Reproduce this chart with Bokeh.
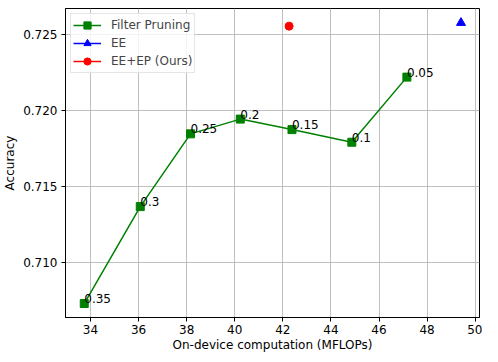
from bokeh.plotting import figure
from bokeh.models import Range1d, FixedTicker, PrintfTickFormatter, Legend
from bokeh.embed import file_html
from bokeh.resources import INLINE

# Data
fp_flops = [33.74, 36.07, 38.16, 40.23, 42.38, 44.87, 47.16]
fp_acc = [0.70733, 0.71370, 0.71848, 0.71945, 0.71876, 0.71793, 0.72221]
fp_labels = ["0.35", "0.3", "0.25", "0.2", "0.15", "0.1", "0.05"]
ee_flops = [49.41]
ee_acc = [0.72578]
eeep_flops = [42.26]
eeep_acc = [0.72556]
x_ticks = [34, 36, 38, 40, 42, 44, 46, 48, 50]
y_ticks = [0.710, 0.715, 0.720, 0.725]

FONT = "DejaVu Sans"

p = figure(width=482, height=354, output_backend="svg", toolbar_location=None,
           x_range=Range1d(32.96, 50.18), y_range=Range1d(0.70641, 0.72672),
           min_border_left=57, min_border_right=3, min_border_top=8, min_border_bottom=35)
p.background_fill_color = "white"
p.border_fill_color = "white"
p.outline_line_color = "black"
p.outline_line_width = 1

for ax in (p.xaxis[0], p.yaxis[0]):
    ax.major_label_text_font = FONT
    ax.major_label_text_font_size = "12px"
    ax.major_label_text_color = "black"
    ax.axis_label_text_font = FONT
    ax.axis_label_text_font_size = "12px"
    ax.axis_label_text_font_style = "normal"
    ax.axis_label_text_color = "black"
    ax.minor_tick_line_color = None
    ax.major_tick_in = 0
    ax.major_tick_out = 4
    ax.major_tick_line_color = "black"
    ax.axis_line_color = "black"

p.xaxis.axis_label = "On-device computation (MFLOPs)"
p.yaxis.axis_label = "Accuracy"
p.xaxis.ticker = FixedTicker(ticks=x_ticks)
p.yaxis.ticker = FixedTicker(ticks=y_ticks)
p.yaxis.formatter = PrintfTickFormatter(format="%.3f")
p.xaxis.major_label_standoff = 3
p.yaxis.major_label_standoff = 4
p.xaxis.axis_label_standoff = 1
p.yaxis.axis_label_standoff = 3

p.grid.grid_line_color = "#b0b0b0"
p.grid.grid_line_width = 1
p.grid.grid_line_alpha = 0.8

r1l = p.line(fp_flops, fp_acc, line_color="green", line_width=1.5)
r1s = p.scatter(fp_flops, fp_acc, marker="square", size=8, fill_color="green", line_color="green")
r2l = p.line(ee_flops, ee_acc, line_color="blue", line_width=1.5)
r2s = p.scatter(ee_flops, ee_acc, marker="triangle", size=9, fill_color="blue", line_color="blue")
r3l = p.line(eeep_flops, eeep_acc, line_color="red", line_width=1.5)
r3s = p.scatter(eeep_flops, eeep_acc, marker="circle", size=8, fill_color="red", line_color="red")

p.text(fp_flops, fp_acc, text=fp_labels, text_font_size="12px", text_align="left",
       text_baseline="middle", y_offset=-5, text_color="black", text_font={"value": FONT})

legend = Legend(items=[("Filter Pruning", [r1l, r1s]), ("EE", [r2l, r2s]), ("EE+EP (Ours)", [r3l, r3s])],
                location="top_left")
legend.margin = 5
legend.padding = 2
legend.spacing = 0
legend.glyph_width = 28
legend.glyph_height = 18
legend.label_height = 18
legend.label_standoff = 10
legend.label_text_font = FONT
legend.label_text_font_size = "12px"
legend.border_line_color = "#cccccc"
legend.border_line_width = 1
legend.background_fill_alpha = 0.8
p.add_layout(legend, "center")

open("out.html", "w").write(file_html(p, INLINE))
